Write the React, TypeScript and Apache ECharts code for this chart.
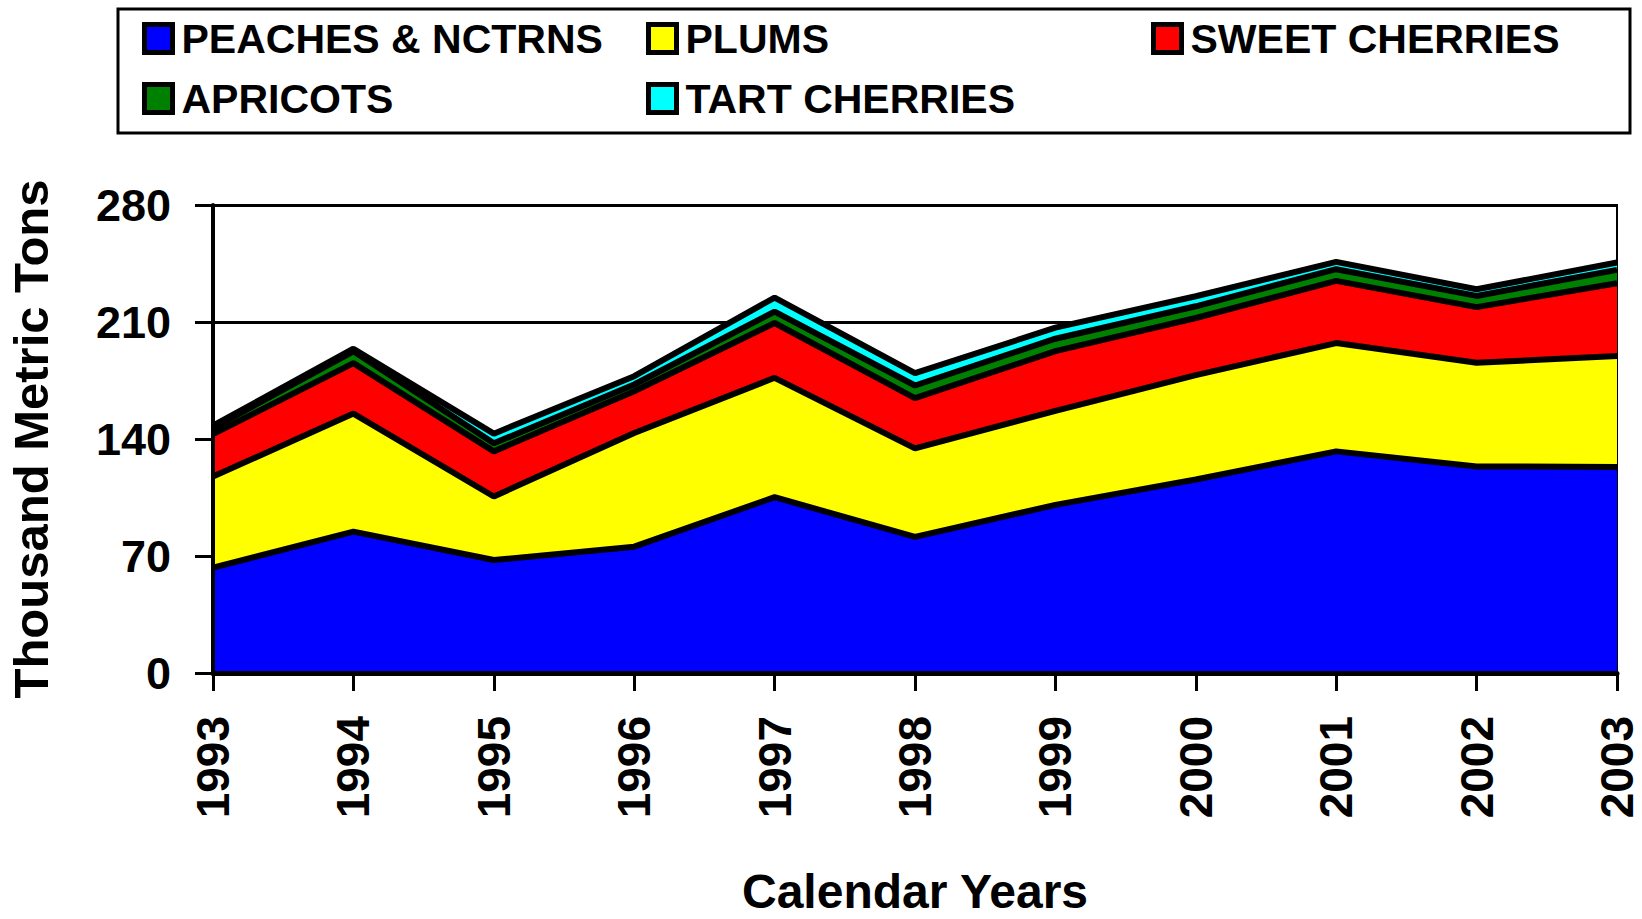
import React, { useEffect, useRef } from "react";
import * as echarts from "echarts";

const years = ["1993", "1994", "1995", "1996", "1997", "1998", "1999", "2000", "2001", "2002", "2003"];
const peaches = [63.0, 84.6, 67.6, 75.6, 105.2, 81.4, 100.6, 115.8, 132.6, 123.6, 123.3];
const plums = [54.5, 70.6, 38.0, 68.0, 71.4, 53.0, 56.2, 62.4, 64.8, 62.0, 66.3];
const sweetCherries = [25.5, 30.2, 27.0, 25.0, 32.8, 30.0, 35.8, 34.2, 37.2, 33.3, 43.6];
const apricots = [3.5, 7.1, 4.8, 4.0, 6.8, 7.6, 7.4, 7.0, 7.0, 6.7, 8.0];
const tartCherries = [1.5, 1.5, 5.8, 5.0, 8.4, 7.4, 6.6, 6.0, 4.4, 4.0, 4.4];

const seriesNames = ["PEACHES & NCTRNS", "PLUMS", "SWEET CHERRIES", "APRICOTS", "TART CHERRIES"];
const seriesData = [peaches, plums, sweetCherries, apricots, tartCherries];
const seriesColors = ["#0000FF", "#FFFF00", "#FF0000", "#008000", "#00FFFF"];
const yTicks = { min: 0, max: 280, interval: 70 };

const FONT = "'Liberation Sans', Arial, sans-serif";

export default function App() {
  const ref = useRef<HTMLDivElement>(null);
  useEffect(() => {
    if (!ref.current) return;
    const chart = echarts.init(ref.current, undefined, { renderer: "svg" });

    const legendPos = [
      { left: 142, top: 18 },
      { left: 646, top: 18 },
      { left: 1151, top: 18 },
      { left: 142, top: 78 },
      { left: 646, top: 78 },
    ];

    const legends = seriesNames.map((name, i) => ({
      data: [name],
      left: legendPos[i].left,
      top: legendPos[i].top,
      padding: 0,
      itemWidth: 28,
      itemHeight: 28,
      icon: "rect",
      itemStyle: { borderColor: "#000", borderWidth: 5 },
      selectedMode: false,
      textStyle: {
        fontSize: 41,
        fontWeight: "bold",
        fontFamily: FONT,
        color: "#000",
        padding: [0, 0, 0, 4],
      },
    }));

    const yBase = {
      type: "value",
      min: yTicks.min,
      max: yTicks.max,
      interval: yTicks.interval,
    };

    chart.setOption({
      animation: false,
      backgroundColor: "#fff",
      legend: legends,
      graphic: [
        {
          type: "rect",
          shape: { x: 118, y: 9, width: 1512, height: 124 },
          style: { fill: "none", stroke: "#000", lineWidth: 3 },
          z: 0,
        },
      ],
      grid: {
        left: 213,
        right: 25,
        top: 205,
        bottom: 246,
        containLabel: false,
        outerBoundsMode: "none",
        show: true,
        borderColor: "#000",
        borderWidth: 2,
        backgroundColor: "#fff",
      },
      xAxis: {
        type: "category",
        data: years,
        boundaryGap: false,
        name: "Calendar Years",
        nameLocation: "middle",
        nameGap: 198,
        nameTextStyle: {
          fontSize: 48,
          lineHeight: 40,
          fontWeight: "bold",
          fontFamily: FONT,
          color: "#000",
        },
        axisLine: { show: true, lineStyle: { color: "#000", width: 5 } },
        axisTick: { show: true, length: 18, inside: false, lineStyle: { color: "#000", width: 3 } },
        axisLabel: {
          rotate: 90,
          margin: 43,
          fontSize: 46,
          fontWeight: "bold",
          fontFamily: FONT,
          color: "#000",
          interval: 0,
        },
        splitLine: { show: false },
        z: 20,
      },
      yAxis: [
        {
          ...yBase,
          position: "left",
          axisLine: { show: false },
          axisTick: { show: false },
          axisLabel: { show: false },
          splitLine: { show: true, lineStyle: { color: "#000", width: 3 } },
          z: 1,
        },
        {
          ...yBase,
          position: "left",
          name: "Thousand Metric Tons",
          nameLocation: "middle",
          nameGap: 158,
          nameTextStyle: { fontSize: 49, fontWeight: "bold", fontFamily: FONT, color: "#000" },
          axisLine: { show: true, onZero: false, lineStyle: { color: "#000", width: 4 } },
          axisTick: { show: true, length: 18, inside: false, lineStyle: { color: "#000", width: 3 } },
          axisLabel: {
            margin: 42,
            fontSize: 45,
            fontWeight: "bold",
            fontFamily: FONT,
            color: "#000",
          },
          splitLine: { show: false },
          z: 20,
        },
      ],
      series: seriesNames.map((name, i) => ({
        name,
        type: "line",
        stack: "total",
        yAxisIndex: 0,
        data: seriesData[i],
        symbol: "none",
        showSymbol: false,
        z: 10 - i,
        color: seriesColors[i],
        itemStyle: { color: seriesColors[i], borderColor: "#000", borderWidth: 5 },
        lineStyle: { color: "#000", width: 6 },
        areaStyle: { color: seriesColors[i], opacity: 1 },
      })),
    });

    return () => chart.dispose();
  }, []);

  return (
    <div
      ref={ref}
      style={{ position: "absolute", left: 0, top: 0, width: 1642, height: 919 }}
    />
  );
}
